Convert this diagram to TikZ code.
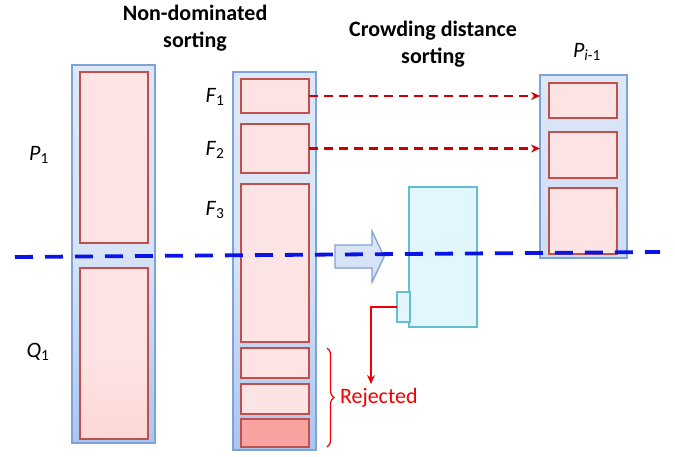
\documentclass[tikz,border=0pt]{standalone}
\usepackage{fontspec}
\setmainfont{Carlito}
\usetikzlibrary{decorations.pathreplacing,shadows,calc,arrows.meta}
\definecolor{contfill}{HTML}{DDE7F7}
\definecolor{contbot}{HTML}{ABC5EE}
\definecolor{contline}{HTML}{7FA3D6}
\definecolor{pinkfill}{HTML}{FDE4E4}
\definecolor{pinkdark}{HTML}{F9A3A1}
\definecolor{pinkline}{HTML}{C0504D}
\definecolor{cyanfill}{HTML}{E1F6FD}
\definecolor{cyanline}{HTML}{63BFCF}
\definecolor{darkred}{HTML}{CC0000}
\definecolor{brightred}{HTML}{F00000}
\definecolor{blueline}{HTML}{0A14E6}
\begin{document}
\begin{tikzpicture}[x=1pt,y=-1pt,
  every node/.style={inner sep=0pt, outer sep=0pt},
  base/.style={rectangle, anchor=north west, drop shadow={shadow xshift=1pt, shadow yshift=-1.2pt, opacity=0.25}},
  container/.style={base, draw=contline, line width=1.2pt, top color=contfill, bottom color=contbot, middle color=contfill!88!contbot},
  pinkbox/.style={base, draw=pinkline, line width=1.2pt, fill=pinkfill},
  darkbox/.style={pinkbox, fill=pinkdark},
  cyanbox/.style={base, draw=cyanline, line width=1.2pt, fill=cyanfill},
  title/.style={font=\bfseries\fontsize{22}{27.5}\selectfont, align=center},
  lab/.style={font=\fontsize{22}{26}\selectfont},
  move/.style={draw=darkred, line width=2.3pt, dash pattern=on 9pt off 6pt, -{Stealth[length=9pt,width=8pt]}},
  cut/.style={draw=blueline, line width=3.8pt, dash pattern=on 18pt off 12pt},
]
\useasboundingbox (0,0) rectangle (675,456);

% left column
\node[container, minimum width=83, minimum height=378] (lc) at (72,65) {};
\node[pinkbox, minimum width=68, minimum height=171] (pbox) at (80,72) {};
\node[pinkbox, minimum width=68, minimum height=171, top color=pinkfill, bottom color=pinkfill!80!pinkdark, middle color=pinkfill] (qbox) at (80,268) {};

% middle column
\node[container, minimum width=83, minimum height=378] (mc) at (233,72) {};
\node[pinkbox, minimum width=68, minimum height=34] (f1) at (241,79) {};
\node[pinkbox, minimum width=68, minimum height=49] (f2) at (241,124) {};
\node[pinkbox, minimum width=68, minimum height=158] (f3) at (241,184) {};
\node[pinkbox, minimum width=68, minimum height=30] (r1) at (241,348) {};
\node[pinkbox, minimum width=68, minimum height=30] (r2) at (241,384) {};
\node[darkbox, minimum width=68, minimum height=28] (r3) at (241,419) {};

% right column
\node[container, minimum width=87, minimum height=183, bottom color=contfill!70!contbot] (rc) at (540,75) {};
\node[pinkbox, minimum width=68, minimum height=35] (g1) at (549,83) {};
\node[pinkbox, minimum width=68, minimum height=46] (g2) at (549,132) {};
\node[pinkbox, minimum width=68, minimum height=66] (g3) at (549,188) {};

% crowding distance box
\node[cyanbox, minimum width=68, minimum height=140] (cd) at (409,187) {};
\node[cyanbox, minimum width=13, minimum height=30] (tab) at (397,292) {};

% block arrow
\draw[draw=contline, line width=1.2pt, top color=contfill, bottom color=contfill!80!contbot, drop shadow={shadow xshift=1pt, shadow yshift=-1.2pt, opacity=0.25}]
  (335,245) -- (372,245) -- (372,231) -- (384,256.5) -- (372,282) -- (372,268) -- (335,268) -- cycle;

% titles and labels
\node[title] (t1) at (195,28) {Non-dominated\\sorting};
\node[title] (t2) at (433,44) {Crowding distance\\sorting};
\node[lab] (lpi) at (587,52) {\textit{P}\textsubscript{\textit{i}-1}};
\node[lab] (lp1) at (39,155) {\textit{P}\textsubscript{1}};
\node[lab] (lq1) at (38,352) {\textit{Q}\textsubscript{1}};
\node[lab] (lf1) at (215,97) {\textit{F}\textsubscript{1}};
\node[lab] (lf2) at (215,150) {\textit{F}\textsubscript{2}};
\node[lab] (lf3) at (215,210) {\textit{F}\textsubscript{3}};
\node[lab, text=brightred, anchor=west] (rej) at (340,398) {Rejected};

% connectors
\draw[move] (f1.east) -- (f1.east -| rc.west);
\draw[move] (f2.east) -- (f2.east -| rc.west);
\coordinate (rejend) at (371,384);
\draw[brightred, line width=1.3pt, -{Stealth[length=9pt,width=8pt]}] (tab.west) -| (rejend);
\draw[brightred, line width=1.2pt, decorate, decoration={brace, amplitude=7pt}] (327,348) -- (327,447);

% cut line
\coordinate (cutl) at (15,257);
\coordinate (cutr) at (660,252);
\draw[cut] (cutl) -- (cutr);
\end{tikzpicture}
\end{document}
